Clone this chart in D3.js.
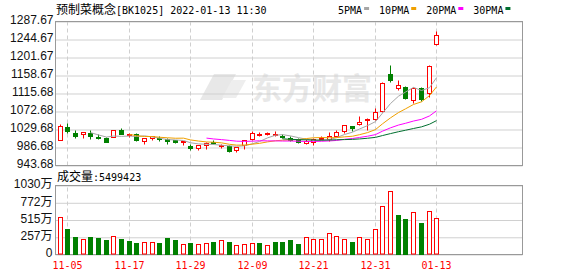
<!DOCTYPE html>
<html>
<head>
<meta charset="utf-8">
<script src="https://cdn.jsdelivr.net/npm/d3@7"></script>
<style>
  body { margin: 0; background: #fff; }
  svg { display: block; }
  text { font-family: "Liberation Sans", "Noto Sans CJK SC", sans-serif; }
  .mono { font-family: "DejaVu Sans Mono", monospace; font-size: 10px; }
  .cjk { font-family: "Noto Sans CJK SC", sans-serif; font-size: 12px; }
</style>
</head>
<body>
<div id="container"></div>
<script>
/* CONSTANTS AND GLOBALS */
const width = 578;
const height = 276;
const left = 55.5, right = 522.5;
const priceTop = 21.5, priceBottom = 165.5;
const volTop = 185.5, volBottom = 254.5;

/* DATA */
const dates = ["11-04","11-05","11-08","11-09","11-10","11-11","11-12","11-15","11-16","11-17",
  "11-18","11-19","11-22","11-23","11-24","11-25","11-26","11-29","11-30","12-01",
  "12-02","12-03","12-06","12-07","12-08","12-09","12-10","12-13","12-14","12-15",
  "12-16","12-17","12-20","12-21","12-22","12-23","12-24","12-27","12-28","12-29",
  "12-30","12-31","01-04","01-05","01-06","01-07","01-10","01-11","01-12","01-13"];

const open = [1004.1,1034.4,1020.8,1017.0,1020.8,1011.2,1008.8,1010.5,1028.0,1015.3,
  1018.4,1001.0,1008.9,1008.9,1005.8,1002.6,997.9,988.3,985.0,991.4,
  999.0,989.0,988.3,980.2,991.4,1005.8,1017.0,1018.4,1017.0,1012.9,
  1007.4,1005.0,995.5,999.3,1005.8,1005.8,1012.2,1024.9,1036.8,1041.6,
  1050.4,1053.5,1071.9,1161.1,1126.9,1129.3,1098.9,1127.6,1115.7,1232.7];
const high = [1040.9,1044.7,1026.5,1022.5,1026.5,1016.9,1011.2,1028.0,1032.8,1019.4,
  1020.1,1008.9,1012.9,1012.2,1007.4,1003.4,1001.7,993.1,992.0,999.3,
  1003.0,994.5,991.4,987.0,1003.4,1025.6,1022.5,1023.2,1024.1,1017.7,
  1011.9,1007.4,1005.0,1008.9,1012.2,1023.2,1027.3,1039.9,1037.5,1061.4,
  1056.6,1079.1,1140.8,1183.3,1146.7,1132.4,1129.3,1129.3,1183.3,1263.1];
const low = [1002.6,1020.1,1008.9,1008.9,1006.5,1006.5,998.0,1009.8,1017.0,1009.8,
  1001.0,994.5,1002.6,1001.0,994.5,996.2,990.7,980.2,980.2,982.6,
  993.0,985.0,974.7,974.7,981.9,1003.4,1012.9,1015.3,1012.2,1007.4,
  1001.0,996.2,993.8,991.4,1002.6,1001.7,1009.8,1020.1,1025.6,1039.9,
  1028.0,1050.4,1069.6,1141.2,1122.8,1100.6,1092.5,1097.3,1105.4,1231.0];
const close = [1036.8,1024.9,1013.6,1022.5,1013.6,1008.8,999.3,1026.5,1018.4,1017.7,
  1002.6,1007.4,1012.2,1005.0,1001.0,997.9,1001.0,985.0,991.4,996.9,
  995.5,992.1,977.1,986.6,1002.6,1019.4,1018.8,1020.1,1018.4,1009.8,
  1004.1,998.6,1001.7,1005.0,1008.9,1013.6,1022.5,1038.5,1032.8,1047.1,
  1053.5,1070.9,1139.6,1147.4,1134.8,1103.0,1126.9,1102.0,1180.9,1254.9];

// moving averages as shown on the chart (null = not drawn yet)
const ma5 = [null,null,null,null,1022.3,1016.7,1011.6,1014.1,1013.3,1014.1,
  1012.9,1014.5,1011.7,1009.0,1005.6,1004.7,1003.4,998.0,995.3,994.4,
  993.9,992.1,990.6,989.6,990.7,995.6,1001.0,1009.6,1016.0,1017.4,
  1014.4,1010.2,1006.5,1003.8,1003.7,1005.6,1010.3,1017.7,1023.3,1030.9,
  1038.9,1048.6,1068.8,1091.7,1109.2,1119.1,1130.3,1122.8,1129.5,1153.5];
const ma10 = [null,null,null,null,null,null,null,null,null,1018.2,
  1014.8,1013.0,1012.9,1011.2,1009.9,1008.8,1009.0,1004.8,1002.1,1000.0,
  999.3,997.8,994.3,992.4,992.6,994.7,996.6,1000.1,1002.8,1004.1,
  1005.0,1005.6,1008.1,1009.9,1010.5,1010.0,1010.3,1012.1,1013.6,1017.3,
  1022.2,1029.5,1043.2,1057.5,1070.1,1079.0,1089.5,1095.8,1110.6,1131.4];
const ma20 = [null,null,null,null,null,null,null,null,null,null,
  null,null,null,null,null,null,null,null,null,1009.1,
  1007.1,1005.5,1003.6,1001.8,1001.3,1001.8,1002.8,1002.5,1002.5,1002.1,
  1002.2,1001.7,1001.2,1001.2,1001.6,1002.4,1003.5,1006.2,1008.2,1010.7,
  1013.6,1017.5,1025.7,1033.7,1040.3,1044.5,1049.9,1054.0,1062.1,1074.3];
const ma30 = [null,null,null,null,null,null,null,null,null,null,
  null,null,null,null,null,null,null,null,null,null,
  null,null,null,null,null,null,null,null,null,1007.4,
  1006.3,1005.4,1005.0,1004.5,1004.3,1004.5,1005.2,1005.6,1006.1,1007.1,
  1008.8,1010.9,1015.2,1019.9,1024.4,1027.9,1032.1,1036.0,1042.3,1050.9];

// volume in 万 shares, and bar colour (1 = up/red, 0 = down/green)
const volume = [562,388,254,234,254,239,209,279,224,199,
  169,194,194,169,239,209,164,179,164,179,
  194,209,184,149,164,179,169,149,184,194,
  209,164,264,234,234,323,279,234,194,264,
  234,383,727,950,597,537,637,463,652,549.9423];
const volUp = [1,0,0,1,0,0,0,1,0,0,
  0,1,1,0,0,0,1,0,1,1,
  0,1,0,1,1,1,0,1,0,0,
  0,0,1,1,1,1,1,1,0,1,
  1,1,1,1,0,0,1,0,1,1];

const priceTicks = [943.68, 986.68, 1029.68, 1072.68, 1115.68, 1158.67, 1201.67, 1244.67, 1287.67];
const volTicks = [0, 257, 515, 772, 1030];
const xTickDates = ["11-05","11-17","11-29","12-09","12-21","12-31","01-13"];

const maNames = ["5PMA", "10PMA", "20PMA", "30PMA"];
const maColors = ["#a6a6a6", "#f0a000", "#ff00ff", "#006f2f"];
const maSeries = [ma5, ma10, ma20, ma30];

const RED = "#ff0000", GREEN = "#008000";

/* SCALES */
const x = d3.scaleLinear()
  .domain([0, dates.length - 1])
  .rangeRound([59.5, 436.2]);

const yPrice = d3.scaleLinear()
  .domain([943.68, 1287.67])
  .range([priceBottom, priceTop]);

const yVol = d3.scaleLinear()
  .domain([0, 1030])
  .range([volBottom, volTop]);

const tickIdx = xTickDates.map(d => dates.indexOf(d));
const cx = i => x(i) + 0.5;
const py = v => Math.round(yPrice(v) - 0.5) + 0.5;

/* SVG */
const svg = d3.select("#container")
  .append("svg")
  .attr("width", width)
  .attr("height", height);

svg.append("rect").attr("width", width).attr("height", height).attr("fill", "#fff");

// watermark
const wm = svg.append("g").attr("fill", "#e8e8e8");
wm.append("path").attr("d", "M214,74 L236,74 L222,100 L200,100 Z");
wm.append("path").attr("d", "M232,80 L246,80 L236,98 L222,98 Z").attr("fill", "#eeeeee");
wm.append("text")
  .attr("x", 252).attr("y", 99)
  .style("font-family", "Noto Sans CJK SC")
  .style("font-size", "30px")
  .style("font-weight", "bold")
  .text("东方财富");

// horizontal grid
svg.append("g")
  .attr("transform", `translate(${left},0)`)
  .call(d3.axisLeft(yPrice).tickValues(priceTicks).tickSize(-(right - left)).tickFormat(""))
  .call(g => g.select(".domain").remove())
  .call(g => g.selectAll("line").attr("stroke", "#d0d0d0"));

svg.append("g")
  .attr("transform", `translate(${left},0)`)
  .call(d3.axisLeft(yVol).tickValues(volTicks).tickSize(-(right - left)).tickFormat(""))
  .call(g => g.select(".domain").remove())
  .call(g => g.selectAll("line").attr("stroke", "#d0d0d0"));

// vertical dashed grid
svg.append("g")
  .attr("transform", `translate(0,${priceBottom})`)
  .call(d3.axisBottom(x).tickValues(tickIdx).tickSize(-(priceBottom - priceTop)).tickFormat(""))
  .call(g => g.select(".domain").remove())
  .call(g => g.selectAll("line").attr("stroke", "#cfcfcf").attr("stroke-dasharray", "4,3"));

svg.append("g")
  .attr("transform", `translate(0,${volBottom})`)
  .call(d3.axisBottom(x).tickValues(tickIdx).tickSize(-(volBottom - volTop)).tickFormat(""))
  .call(g => g.select(".domain").remove())
  .call(g => g.selectAll("line").attr("stroke", "#cfcfcf").attr("stroke-dasharray", "4,3"));

// frames
svg.append("rect")
  .attr("x", left).attr("y", priceTop)
  .attr("width", right - left).attr("height", priceBottom - priceTop)
  .attr("fill", "none").attr("stroke", "#999");
svg.append("rect")
  .attr("x", left).attr("y", volTop)
  .attr("width", right - left).attr("height", volBottom - volTop)
  .attr("fill", "none").attr("stroke", "#999");

// candles
const candles = svg.append("g")
  .selectAll("g")
  .data(dates.map((d, i) => i))
  .join("g");

candles.append("line")
  .attr("x1", cx).attr("x2", cx)
  .attr("y1", i => py(high[i]))
  .attr("y2", i => py(low[i]))
  .attr("stroke", i => close[i] >= open[i] ? RED : GREEN);

candles.append("rect")
  .attr("x", i => close[i] >= open[i] ? cx(i) - 2 : cx(i) - 2.5)
  .attr("y", i => close[i] >= open[i] ? py(close[i]) : py(open[i]) - 0.5)
  .attr("width", i => close[i] >= open[i] ? 4 : 5)
  .attr("height", i => {
    const h = Math.abs(py(open[i]) - py(close[i]));
    return close[i] >= open[i] ? Math.max(h, 1) : Math.max(h + 1, 1);
  })
  .attr("fill", i => close[i] >= open[i] ? "#fff" : GREEN)
  .attr("stroke", i => close[i] >= open[i] ? RED : "none");

// moving averages
const line = d3.line()
  .defined(d => d != null)
  .x((d, i) => cx(i))
  .y(d => yPrice(d));

svg.append("g")
  .selectAll("path")
  .data(maSeries)
  .join("path")
  .attr("d", line)
  .attr("fill", "none")
  .attr("stroke", (d, k) => maColors[k])
  .attr("stroke-width", 1);

// volume bars
svg.append("g")
  .selectAll("rect")
  .data(volume)
  .join("rect")
  .attr("x", (d, i) => volUp[i] ? cx(i) - 2 : cx(i) - 2.5)
  .attr("y", (d, i) => volUp[i] ? Math.round(yVol(d)) + 0.5 : Math.round(yVol(d)))
  .attr("width", (d, i) => volUp[i] ? 4 : 5)
  .attr("height", (d, i) => volUp[i] ? volBottom - Math.round(yVol(d)) - 1 : volBottom + 0.5 - Math.round(yVol(d)))
  .attr("fill", (d, i) => volUp[i] ? "#fff" : GREEN)
  .attr("stroke", (d, i) => volUp[i] ? RED : "none");

// y-axis labels
svg.append("g")
  .attr("transform", `translate(${left},0)`)
  .call(d3.axisLeft(yPrice).tickValues(priceTicks).tickSize(0).tickPadding(2).tickFormat(d => d.toFixed(2)))
  .call(g => g.select(".domain").remove())
  .call(g => g.selectAll("text")
    .attr("dy", "0.2em")
    .attr("fill", "#111")
    .style("font-family", "Liberation Sans")
    .style("font-size", "12px"));

svg.append("g")
  .attr("transform", `translate(${left},0)`)
  .call(d3.axisLeft(yVol).tickValues(volTicks).tickSize(0).tickPadding(3).tickFormat(d => d === 0 ? "0" : d + "万"))
  .call(g => g.select(".domain").remove())
  .call(g => g.selectAll("text")
    .attr("dy", "0.2em")
    .attr("fill", "#111")
    .style("font-family", "Liberation Sans, Noto Sans CJK SC")
    .style("font-size", "12px"));

// x-axis labels
svg.append("g")
  .attr("transform", `translate(0,${volBottom})`)
  .call(d3.axisBottom(x).tickValues(tickIdx).tickSize(0).tickPadding(7).tickFormat(i => dates[i]))
  .call(g => g.select(".domain").remove())
  .call(g => g.selectAll("text")
    .attr("fill", RED)
    .style("font-family", "DejaVu Sans Mono")
    .style("font-size", "10px"));

// title
const title = svg.append("text").attr("x", 56).attr("y", 13.5).attr("fill", "#000");
title.append("tspan").attr("class", "cjk").text("预制菜概念");
title.append("tspan").attr("class", "mono").text("[BK1025] 2022-01-13 11:30");

// volume title
const vt = svg.append("text").attr("x", 57).attr("y", 181).attr("fill", "#000");
vt.append("tspan").attr("class", "cjk").text("成交量");
vt.append("tspan").attr("class", "mono").text(":" + Math.round(volume[volume.length - 1] * 10000));

// legend
let lx = 338;
maNames.forEach((name, k) => {
  const t = svg.append("text")
    .attr("class", "mono")
    .attr("x", lx).attr("y", 13.5)
    .attr("fill", "#000")
    .text(name);
  const w = t.node().getComputedTextLength();
  svg.append("rect")
    .attr("x", lx + w + 2).attr("y", 7)
    .attr("width", 5).attr("height", 3)
    .attr("fill", maColors[k]);
  lx = lx + w + 2 + 5 + 10;
});
</script>
</body>
</html>
